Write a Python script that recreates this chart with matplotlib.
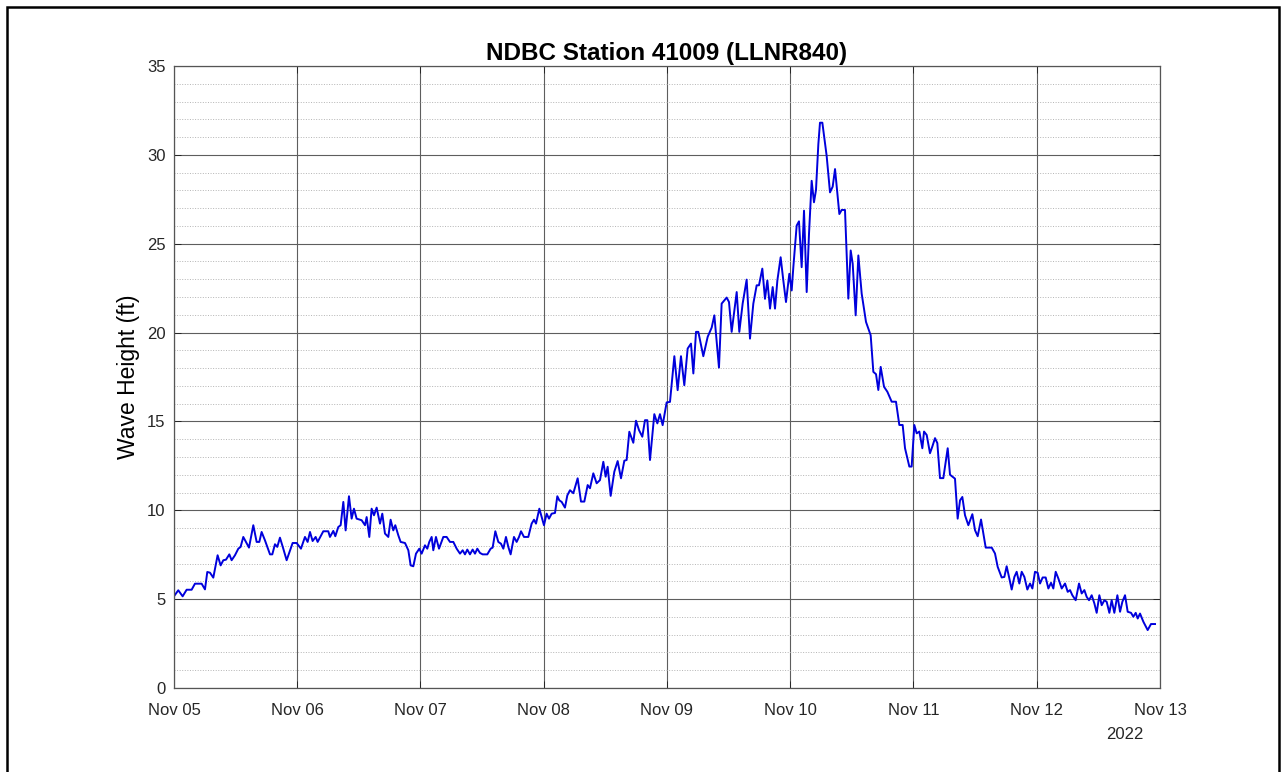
import matplotlib
matplotlib.use("Agg")
import matplotlib.pyplot as plt
import matplotlib.dates as mdates
from matplotlib.patches import Rectangle
from matplotlib.ticker import MultipleLocator
from datetime import datetime, timedelta

## Significant wave height at NDBC buoy 41009, Nov 05 - Nov 13 2022
## values (hours after Nov 05 00:00)

hours = [
    0.00, 0.84, 1.69, 2.47, 3.44, 4.09, 5.39, 6.04, 6.49, 7.01, 7.66, 8.50, 9.09, 9.61,
    10.13, 10.78, 11.23, 11.88, 12.53, 12.98, 13.50, 14.61, 15.45, 16.10, 16.62, 17.07,
    17.72, 18.70, 19.15, 19.67, 20.12, 20.64, 21.29, 21.94, 23.11, 23.89, 24.73, 25.51,
    26.03, 26.49, 27.00, 27.59, 27.98, 29.08, 30.05, 30.38, 31.03, 31.42, 32.00, 32.46,
    32.98, 33.43, 34.08, 34.60, 35.05, 35.57, 36.55, 37.20, 37.52, 38.04, 38.49, 38.95,
    39.47, 40.12, 40.57, 41.09, 41.74, 42.19, 42.71, 43.10, 43.69, 44.14, 44.99, 45.64,
    46.09, 46.61, 47.13, 47.78, 48.23, 48.88, 49.33, 49.72, 50.18, 50.50, 51.02, 51.61,
    52.45, 53.10, 53.75, 54.40, 55.05, 55.70, 56.22, 56.67, 57.12, 57.64, 58.16, 58.62,
    59.07, 59.59, 60.11, 61.02, 61.67, 62.06, 62.58, 63.16, 63.68, 64.14, 64.65, 65.11,
    65.56, 66.21, 66.73, 67.19, 67.58, 68.16, 69.00, 69.65, 70.11, 70.50, 71.15, 71.60,
    72.05, 72.57, 73.03, 73.55, 74.20, 74.65, 75.04, 75.50, 76.14, 76.60, 77.12, 77.77,
    78.61, 79.26, 79.91, 80.56, 81.01, 81.66, 82.31, 82.96, 83.61, 84.06, 84.45, 85.04,
    85.75, 86.40, 87.05, 87.70, 88.15, 88.67, 89.45, 89.97, 90.56, 91.20, 91.72, 92.18,
    92.70, 93.54, 94.13, 94.64, 95.16, 95.94, 96.59, 97.44, 98.08, 98.73, 99.38, 100.03,
    100.68, 101.14, 101.66, 102.11, 103.08, 103.93, 104.71, 105.23, 106.13, 106.65,
    107.63, 108.08, 108.60, 109.58, 110.09, 110.74, 111.52, 112.17, 112.82, 113.47,
    113.92, 114.57, 115.09, 115.55, 116.07, 116.59, 117.04, 117.50, 118.14, 118.66,
    119.18, 119.83, 120.29, 120.61, 121.26, 121.71, 122.23, 122.69, 123.21, 123.66,
    124.18, 124.63, 125.02, 125.48, 125.80, 126.26, 127.10, 127.75, 128.27, 128.73,
    129.57, 130.02, 130.67, 131.32, 131.78, 132.17, 132.75, 133.27, 133.92, 134.76,
    135.67, 136.19, 136.71, 137.16, 137.62, 138.27, 138.92, 139.76, 140.60, 141.25,
    141.90, 142.36, 143.20, 143.65, 144.17, 144.63, 145.15, 145.73, 146.06, 146.58,
    147.22, 147.68, 148.20, 148.65, 149.17, 149.82, 150.67, 151.12, 152.09, 152.61,
    153.07, 153.52, 154.04, 154.69, 155.47, 155.99, 156.51, 157.16, 158.07, 159.24,
    159.88, 160.40, 161.18, 161.70, 162.15, 162.61, 163.13, 163.65, 164.10, 164.62,
    165.08, 165.60, 166.18, 166.70, 167.16, 167.67, 168.19, 168.65, 169.16, 169.75,
    170.27, 170.79, 171.24, 171.70, 172.22, 172.87, 173.52, 174.04, 174.49, 174.94,
    175.59, 176.24, 176.76, 177.28, 177.73, 178.19, 178.71, 179.23, 179.68, 180.20,
    180.66, 181.18, 181.63, 182.15, 182.60, 183.12, 183.71, 184.23, 184.68, 185.20,
    185.72, 186.37, 186.82, 187.28, 187.67, 188.12, 188.77, 189.61, 190.26, 191.04,
]

wave_ft = [
    5.16, 5.50, 5.16, 5.53, 5.53, 5.87, 5.87, 5.55, 6.53, 6.49, 6.21, 7.47, 6.90, 7.19,
    7.22, 7.52, 7.19, 7.47, 7.84, 7.94, 8.50, 7.90, 9.16, 8.22, 8.22, 8.78,
    8.31, 7.52, 7.52, 8.09, 7.94, 8.46, 7.84, 7.19, 8.16, 8.16, 7.84, 8.50,
    8.22, 8.78, 8.27, 8.50, 8.22, 8.82, 8.82, 8.50, 8.84, 8.54, 9.06, 9.16,
    10.47, 8.87, 10.79, 9.53, 10.09, 9.53, 9.44, 9.16, 9.62, 8.50, 10.09, 9.72,
    10.15, 9.25, 9.81, 8.69, 8.50, 9.47, 8.87, 9.16, 8.59, 8.22, 8.16, 7.75,
    6.90, 6.85, 7.56, 7.84, 7.56, 8.03, 7.84, 8.22, 8.50, 7.75, 8.50, 7.84,
    8.50, 8.50, 8.22, 8.22, 7.84, 7.56, 7.75, 7.52, 7.79, 7.52, 7.79, 7.56,
    7.84, 7.60, 7.52, 7.52, 7.84, 7.90, 8.82, 8.22, 8.12, 7.84, 8.50, 7.94,
    7.52, 8.50, 8.22, 8.50, 8.82, 8.50, 8.50, 9.25, 9.47, 9.25, 10.09, 9.62,
    9.16, 9.81, 9.53, 9.81, 9.85, 10.79, 10.56, 10.47, 10.15, 10.84, 11.13, 10.96,
    11.80, 10.49, 10.49, 11.42, 11.24, 12.08, 11.52, 11.70, 12.73, 11.89, 12.45, 10.81,
    12.17, 12.77, 11.80, 12.79, 12.83, 14.42, 13.80, 15.04, 14.51, 14.14, 15.07, 15.07,
    12.83, 15.41, 14.89, 15.41, 14.79, 16.07, 16.10, 18.67, 16.76, 18.67, 17.04, 19.10,
    19.38, 17.70, 20.04, 20.04, 18.67, 19.76, 20.28, 20.97, 18.03, 21.63,
    21.97, 21.72, 20.04, 22.28, 20.04, 21.63, 22.98, 19.66, 21.63, 22.66,
    22.66, 23.60, 21.90, 22.93, 21.35, 22.56, 21.35, 22.93, 24.24, 22.93,
    21.72, 23.31, 22.37, 23.68, 26.02, 26.26, 23.68, 26.86, 22.28, 25.55,
    28.54, 27.33, 28.02, 30.60, 31.81, 31.81, 29.94, 27.89, 28.21, 29.20,
    26.67, 26.90, 26.90, 21.91, 24.62, 23.87, 20.97, 24.34, 22.19, 20.60,
    19.85, 17.79, 17.66, 16.77, 18.07, 16.95, 16.67, 16.11, 16.11, 14.80,
    14.80, 13.49, 12.46, 12.46, 14.80, 14.33, 14.43, 13.49, 14.43, 14.24,
    13.21, 13.59, 14.06, 13.78, 11.81, 11.81, 13.49, 12.00, 11.78, 9.53,
    10.56, 10.75, 9.72, 9.16, 9.78, 8.88, 8.54, 9.48, 7.90, 7.90,
    7.57, 6.82, 6.22, 6.25, 6.85, 6.25, 5.54, 6.25, 6.54, 5.88,
    6.54, 6.25, 5.54, 5.88, 5.60, 6.54, 6.48, 5.88, 6.22, 6.22,
    5.60, 5.92, 5.60, 6.54, 6.16, 5.60, 5.88, 5.41, 5.51, 5.22,
    4.94, 5.88, 5.32, 5.51, 5.13, 4.94, 5.22, 4.76, 4.23, 5.22,
    4.66, 4.94, 4.85, 4.23, 4.94, 4.23, 5.22, 4.29, 4.85, 5.22,
    4.29, 4.23, 4.01, 4.23, 3.91, 4.19, 3.73, 3.26, 3.60, 3.60,
]

start = datetime(2022, 11, 5)
end = datetime(2022, 11, 13)
times = [start + timedelta(hours=h) for h in hours]

plt.rcParams["font.family"] = ["Liberation Sans", "DejaVu Sans"]

fig = plt.figure(figsize=(12.81, 7.72), dpi=100)
ax = fig.add_axes([0.1358, 0.1088, 0.7697, 0.8057])

ax.plot(times, wave_ft, color="#0000dc", linewidth=1.4)

ax.set_xlim(start, end)
ax.set_ylim(0, 35)
ax.xaxis.set_major_locator(mdates.DayLocator())
ax.xaxis.set_major_formatter(mdates.DateFormatter("%b %d"))
ax.yaxis.set_major_locator(MultipleLocator(5))
ax.yaxis.set_minor_locator(MultipleLocator(1))

# matlab-like grid: solid major, dotted minor (horizontal only)
ax.grid(which="major", color="#5e5e5e", linewidth=0.8)
ax.grid(which="minor", axis="y", color="#b4b4b4", linestyle=":", linewidth=0.7)
ax.set_axisbelow(True)

ax.tick_params(which="major", direction="in", length=5, width=0.7, colors="#262626",
               labelsize=12, top=True, right=True)
ax.tick_params(axis="x", which="major", pad=11)
ax.tick_params(axis="y", which="major", pad=6)
ax.tick_params(which="minor", direction="in", length=0, top=False, right=False)
for s in ax.spines.values():
    s.set_color("#555555")
    s.set_linewidth(0.9)

ax.set_title("NDBC Station 41009 (LLNR840)", fontsize=17.5, fontweight="bold", pad=4)
ax.set_ylabel("Wave Height (ft)", fontsize=16.5, labelpad=5)
ax.text(0.964, -0.062, "2022", transform=ax.transAxes, ha="center", va="top",
        fontsize=12, color="#262626")

# black frame round the whole figure
fig.patches.append(Rectangle((7 / 1281, -0.02), 1272 / 1281, 1 - 7 / 772 + 0.02,
                             transform=fig.transFigure, fill=False,
                             edgecolor="black", linewidth=1.8))

fig.savefig("out.png", dpi=100)
